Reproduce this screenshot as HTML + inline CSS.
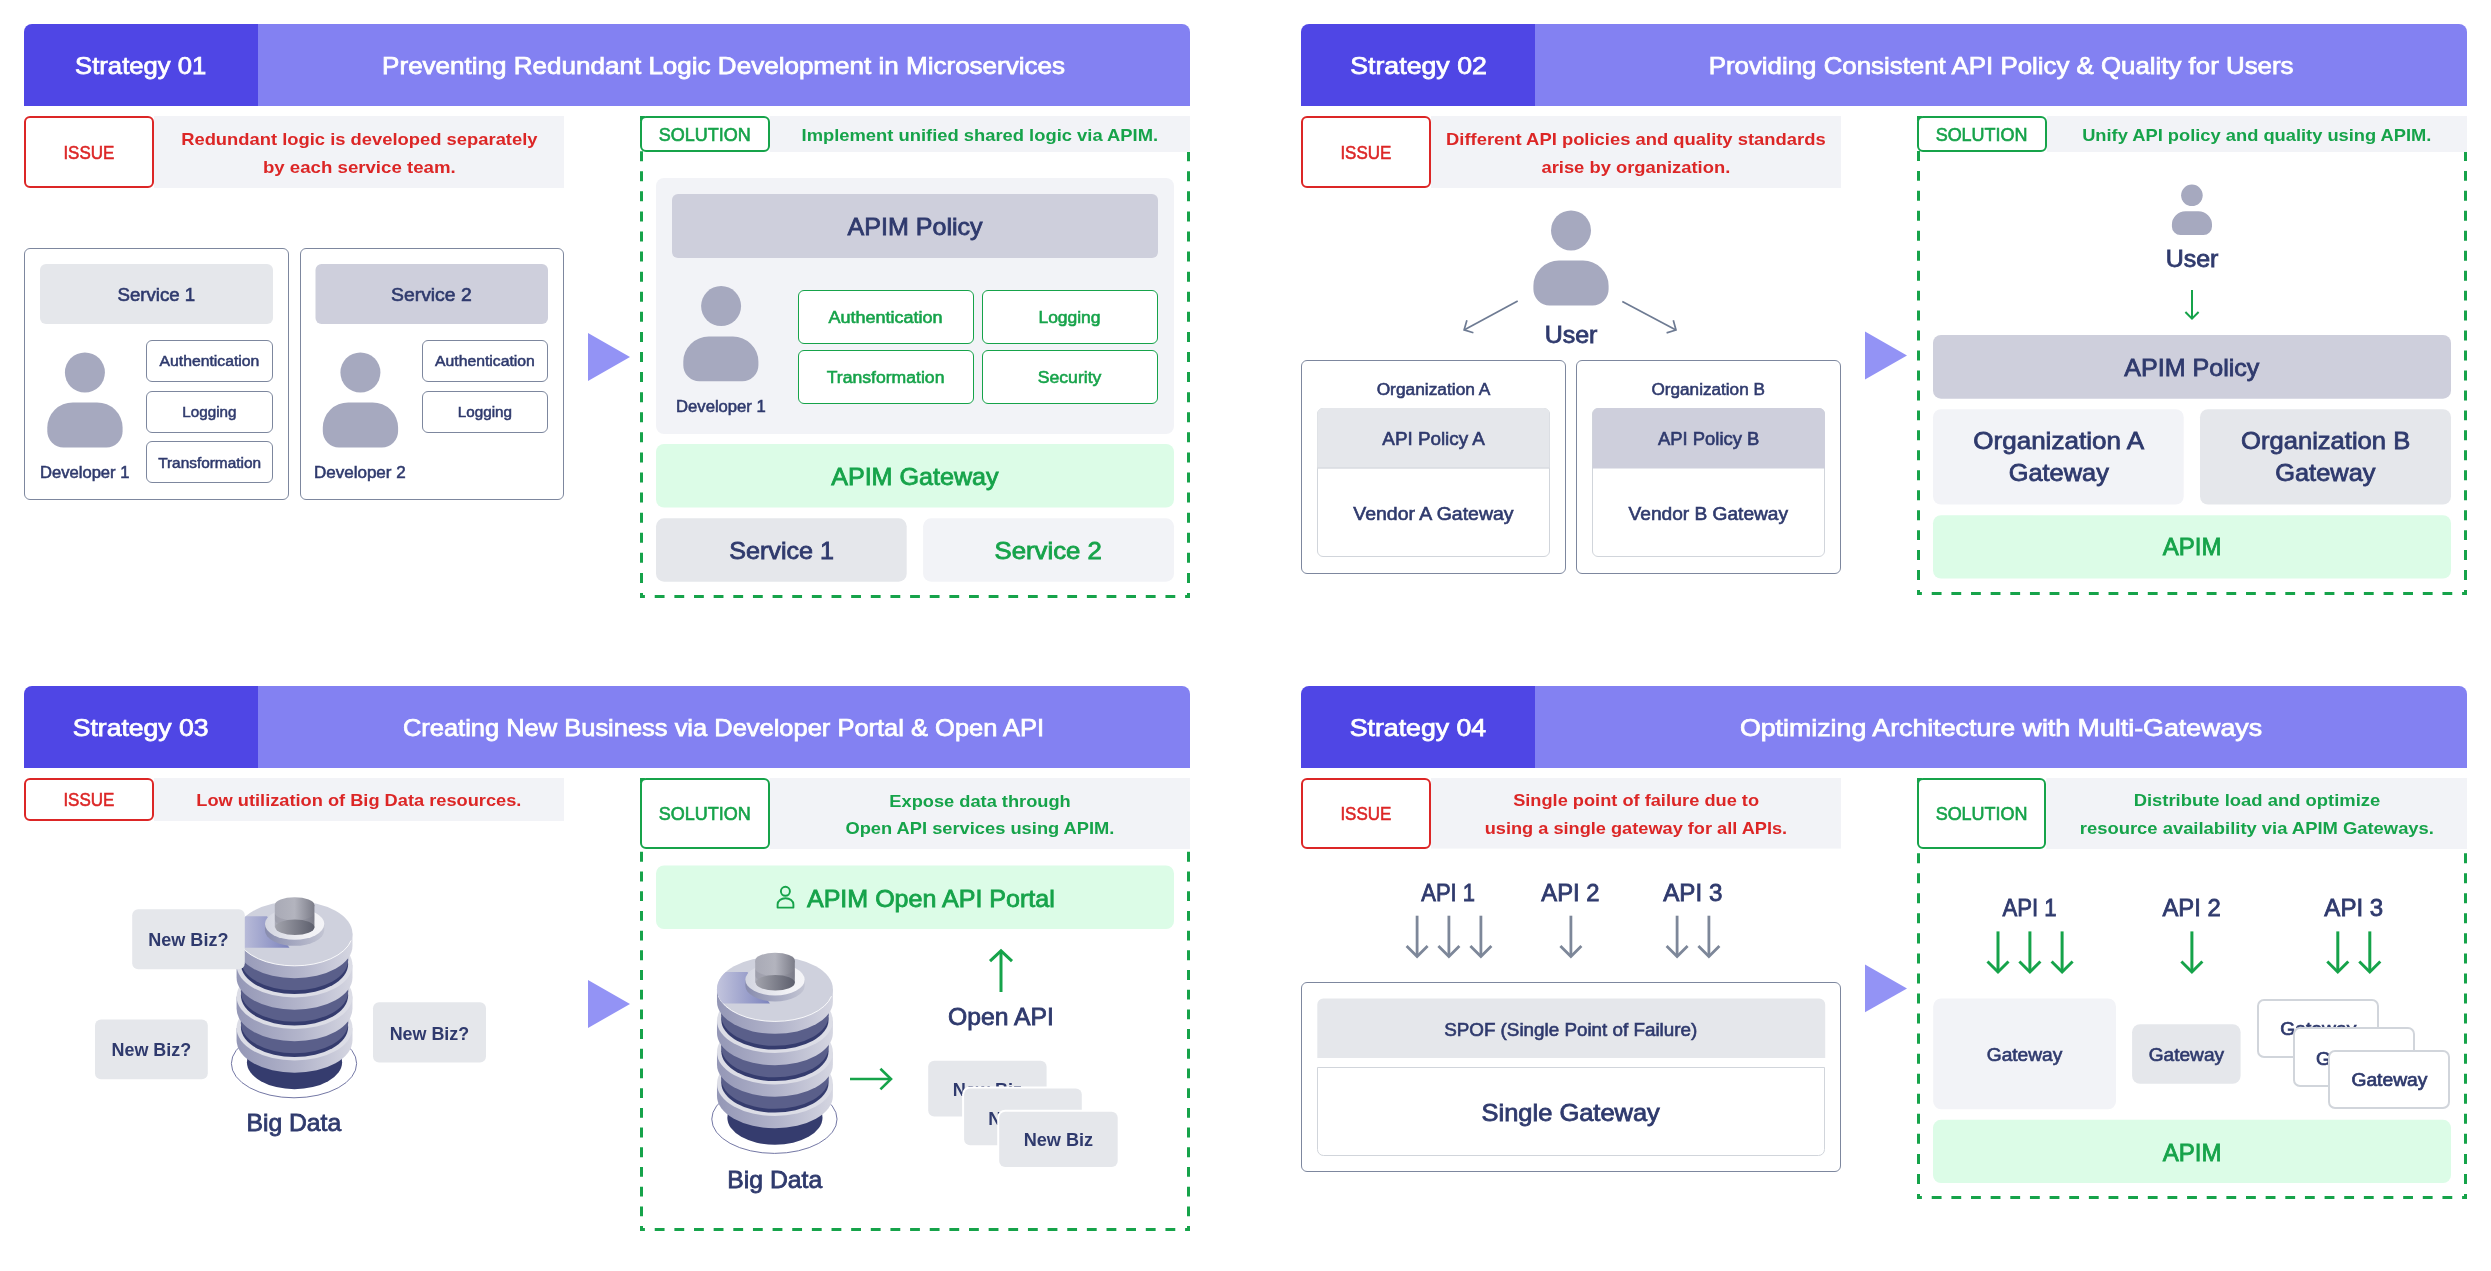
<!DOCTYPE html>
<html><head><meta charset="utf-8"><style>
html,body{margin:0;padding:0;background:#FFFFFF;width:2491px;height:1271px;overflow:hidden;position:relative}
text{font-family:"Liberation Sans",sans-serif}
</style></head><body>
<svg width="2491" height="1271" viewBox="0 0 2491 1271" style="position:absolute;left:0;top:0;will-change:transform" font-family="Liberation Sans, sans-serif">
<defs>
<linearGradient id="side" x1="0" x2="1" y1="0" y2="0"><stop offset="0" stop-color="#9497B6"/><stop offset="0.55" stop-color="#B3B5CB"/><stop offset="1" stop-color="#D5D6E1"/></linearGradient>
<linearGradient id="shade" x1="0" x2="1" y1="0" y2="0"><stop offset="0" stop-color="#C4C6DE"/><stop offset="1" stop-color="#7C83BD"/></linearGradient>
<linearGradient id="ring" x1="0" x2="1" y1="0" y2="0"><stop offset="0" stop-color="#D3D5E0"/><stop offset="0.7" stop-color="#F1F1F5"/><stop offset="1" stop-color="#F4F4F7"/></linearGradient>
<linearGradient id="ringside" x1="0" x2="1" y1="0" y2="0"><stop offset="0" stop-color="#888CAE"/><stop offset="1" stop-color="#C3C5D3"/></linearGradient>
<linearGradient id="col" x1="0" x2="1" y1="0" y2="0"><stop offset="0" stop-color="#A9AAB6"/><stop offset="0.5" stop-color="#B3B4BE"/><stop offset="1" stop-color="#7B7C88"/></linearGradient>
<linearGradient id="hole" x1="0" x2="1" y1="0" y2="0"><stop offset="0" stop-color="#A2A3AC"/><stop offset="1" stop-color="#5C5E6C"/></linearGradient>
<g id="db">
<ellipse cx="428" cy="1032" rx="362" ry="198" fill="none" stroke="#5D6196" stroke-width="5"/>
<ellipse cx="431" cy="1024" rx="275" ry="156" fill="#353C6E"/>
<path d="M96,827 L96,898 A335,187 0 0 0 766,898 L766,827 Z" fill="url(#side)"/>
<ellipse cx="431" cy="827" rx="335" ry="187" fill="#DCDDE6"/>
<ellipse cx="431" cy="821" rx="310" ry="173" fill="#353C6E"/>
<ellipse cx="431" cy="799" rx="310" ry="173" fill="#5A5F8A"/>
<rect x="121" y="716" width="620" height="83" fill="#5A5F8A"/>
<path d="M96,645 L96,716 A335,187 0 0 0 766,716 L766,645 Z" fill="url(#side)"/>
<ellipse cx="431" cy="645" rx="335" ry="187" fill="#DCDDE6"/>
<ellipse cx="431" cy="639" rx="310" ry="173" fill="#353C6E"/>
<ellipse cx="431" cy="617" rx="310" ry="173" fill="#5A5F8A"/>
<rect x="121" y="534" width="620" height="83" fill="#5A5F8A"/>
<path d="M96,463 L96,534 A335,187 0 0 0 766,534 L766,463 Z" fill="url(#side)"/>
<ellipse cx="431" cy="463" rx="335" ry="187" fill="#DCDDE6"/>
<ellipse cx="431" cy="457" rx="310" ry="173" fill="#353C6E"/>
<ellipse cx="431" cy="435" rx="310" ry="173" fill="#5A5F8A"/>
<rect x="121" y="352" width="620" height="83" fill="#5A5F8A"/>
<path d="M96,281 L96,352 A335,187 0 0 0 766,352 L766,281 Z" fill="url(#side)"/>
<ellipse cx="431" cy="281" rx="335" ry="187" fill="#CFD1DD"/>
<path d="M104,321 A335,187 0 0 0 758,321" fill="none" stroke="#FFFFFF" stroke-width="5"/>
<clipPath id="topclip"><ellipse cx="431" cy="281" rx="335" ry="187"/></clipPath>
<path d="M90,181 L272,181 L402,363 L90,363 Z" fill="url(#shade)" clip-path="url(#topclip)"/>
<path d="M260,226 L260,261 A171.5,90.7 0 0 0 603,261 L603,226 Z" fill="url(#ringside)"/>
<ellipse cx="431.5" cy="226" rx="171.5" ry="90.7" fill="url(#ring)"/>
<path d="M317,116 L317,244 L546,244 L546,116 Z" fill="url(#col)"/>
<ellipse cx="431.5" cy="116" rx="114.5" ry="45.4" fill="url(#col)"/>
<path d="M317,160 A114.5,45.4 0 0 0 546,160 L546,200 A114.5,45.4 0 0 1 317,200 Z" fill="#6F7080" opacity="0.18"/>
<ellipse cx="433" cy="244" rx="113" ry="45" fill="url(#hole)"/>
</g>
</defs>
<path d="M24,106 L24,32 A8,8 0 0 1 32,24 L258,24 L258,106 Z" fill="#4F46E5" />
<path d="M258,24 L1182,24 A8,8 0 0 1 1190,32 L1190,106 L258,106 Z" fill="#8381F2" />
<text x="140.70" y="74.30" font-size="24" font-weight="400" fill="#FFFFFF" text-anchor="middle" textLength="131.2" lengthAdjust="spacingAndGlyphs" stroke="#FFFFFF" stroke-width="0.75" >Strategy 01</text>
<text x="723.60" y="74.30" font-size="24" font-weight="400" fill="#FFFFFF" text-anchor="middle" textLength="683.0" lengthAdjust="spacingAndGlyphs" stroke="#FFFFFF" stroke-width="0.75" >Preventing Redundant Logic Development in Microservices</text>
<rect x="154.00" y="116.00" width="410.00" height="72.00" rx="0" fill="#F2F3F7" />
<rect x="25.00" y="117.00" width="128.00" height="70.00" rx="5.00" fill="#FFFFFF" stroke="#DC2626" stroke-width="2" />
<text x="88.85" y="158.80" font-size="18" font-weight="400" fill="#DC2626" text-anchor="middle" textLength="50.9" lengthAdjust="spacingAndGlyphs" stroke="#DC2626" stroke-width="0.55" >ISSUE</text>
<text x="359.35" y="144.90" font-size="17" font-weight="700" fill="#DC2626" text-anchor="middle" textLength="356.4" lengthAdjust="spacingAndGlyphs" >Redundant logic is developed separately</text>
<text x="359.30" y="173.00" font-size="17" font-weight="700" fill="#DC2626" text-anchor="middle" textLength="192.7" lengthAdjust="spacingAndGlyphs" >by each service team.</text>
<rect x="24.50" y="248.50" width="264.00" height="251.00" rx="5.50" fill="#FFFFFF" stroke="#7D879E" stroke-width="1" />
<rect x="40.00" y="264.00" width="233.00" height="60.00" rx="6" fill="#E5E7EB" />
<text x="156.35" y="301.20" font-size="18" font-weight="400" fill="#2F3A6D" text-anchor="middle" textLength="77.8" lengthAdjust="spacingAndGlyphs" stroke="#2F3A6D" stroke-width="0.6" >Service 1</text>
<circle cx="84.9" cy="372.5" r="20" fill="#A6A9BF"/>
<path d="M72.90,402.40 L97.00,402.40 A25.60,25.20 0 0 1 122.60,427.60 L122.60,431.20 A16.20,16.20 0 0 1 106.40,447.40 L63.50,447.40 A16.20,16.20 0 0 1 47.30,431.20 L47.30,427.60 A25.60,25.20 0 0 1 72.90,402.40 Z" fill="#A6A9BF" />
<text x="84.75" y="477.70" font-size="16" font-weight="400" fill="#2F3A6D" text-anchor="middle" textLength="89.4" lengthAdjust="spacingAndGlyphs" stroke="#2F3A6D" stroke-width="0.55" >Developer 1</text>
<rect x="146.50" y="340.50" width="126.00" height="41.00" rx="5.50" fill="#FFFFFF" stroke="#7D879E" stroke-width="1" />
<text x="209.45" y="366.40" font-size="14" font-weight="400" fill="#2F3A6D" text-anchor="middle" textLength="99.8" lengthAdjust="spacingAndGlyphs" stroke="#2F3A6D" stroke-width="0.5" >Authentication</text>
<rect x="146.50" y="391.50" width="126.00" height="41.00" rx="5.50" fill="#FFFFFF" stroke="#7D879E" stroke-width="1" />
<text x="209.40" y="417.10" font-size="14" font-weight="400" fill="#2F3A6D" text-anchor="middle" textLength="54.1" lengthAdjust="spacingAndGlyphs" stroke="#2F3A6D" stroke-width="0.5" >Logging</text>
<rect x="146.50" y="441.50" width="126.00" height="41.00" rx="5.50" fill="#FFFFFF" stroke="#7D879E" stroke-width="1" />
<text x="209.60" y="467.70" font-size="14" font-weight="400" fill="#2F3A6D" text-anchor="middle" textLength="102.9" lengthAdjust="spacingAndGlyphs" stroke="#2F3A6D" stroke-width="0.5" >Transformation</text>
<rect x="300.50" y="248.50" width="263.00" height="251.00" rx="5.50" fill="#FFFFFF" stroke="#7D879E" stroke-width="1" />
<rect x="315.50" y="264.00" width="232.50" height="60.00" rx="6" fill="#CECFDC" />
<text x="431.35" y="301.20" font-size="18" font-weight="400" fill="#2F3A6D" text-anchor="middle" textLength="80.6" lengthAdjust="spacingAndGlyphs" stroke="#2F3A6D" stroke-width="0.6" >Service 2</text>
<circle cx="360.4" cy="372.5" r="20" fill="#A6A9BF"/>
<path d="M348.40,402.40 L372.50,402.40 A25.60,25.20 0 0 1 398.10,427.60 L398.10,431.20 A16.20,16.20 0 0 1 381.90,447.40 L339.00,447.40 A16.20,16.20 0 0 1 322.80,431.20 L322.80,427.60 A25.60,25.20 0 0 1 348.40,402.40 Z" fill="#A6A9BF" />
<text x="359.85" y="477.70" font-size="16" font-weight="400" fill="#2F3A6D" text-anchor="middle" textLength="91.6" lengthAdjust="spacingAndGlyphs" stroke="#2F3A6D" stroke-width="0.55" >Developer 2</text>
<rect x="422.50" y="340.50" width="125.00" height="41.00" rx="5.50" fill="#FFFFFF" stroke="#7D879E" stroke-width="1" />
<text x="484.95" y="366.40" font-size="14" font-weight="400" fill="#2F3A6D" text-anchor="middle" textLength="99.8" lengthAdjust="spacingAndGlyphs" stroke="#2F3A6D" stroke-width="0.5" >Authentication</text>
<rect x="422.50" y="391.50" width="125.00" height="41.00" rx="5.50" fill="#FFFFFF" stroke="#7D879E" stroke-width="1" />
<text x="484.90" y="417.10" font-size="14" font-weight="400" fill="#2F3A6D" text-anchor="middle" textLength="54.1" lengthAdjust="spacingAndGlyphs" stroke="#2F3A6D" stroke-width="0.5" >Logging</text>
<path d="M588,333 L630,357.0 L588,381 Z" fill="#9393F5" />
<path d="M640.00,116h4.91v3h-4.91ZM654.73,116h9.82v3h-9.82ZM674.38,116h9.82v3h-9.82ZM694.02,116h9.82v3h-9.82ZM713.66,116h9.82v3h-9.82ZM733.30,116h9.82v3h-9.82ZM752.95,116h9.82v3h-9.82ZM772.59,116h9.82v3h-9.82ZM792.23,116h9.82v3h-9.82ZM811.87,116h9.82v3h-9.82ZM831.52,116h9.82v3h-9.82ZM851.16,116h9.82v3h-9.82ZM870.80,116h9.82v3h-9.82ZM890.45,116h9.82v3h-9.82ZM910.09,116h9.82v3h-9.82ZM929.73,116h9.82v3h-9.82ZM949.37,116h9.82v3h-9.82ZM969.02,116h9.82v3h-9.82ZM988.66,116h9.82v3h-9.82ZM1008.30,116h9.82v3h-9.82ZM1027.95,116h9.82v3h-9.82ZM1047.59,116h9.82v3h-9.82ZM1067.23,116h9.82v3h-9.82ZM1086.88,116h9.82v3h-9.82ZM1106.52,116h9.82v3h-9.82ZM1126.16,116h9.82v3h-9.82ZM1145.80,116h9.82v3h-9.82ZM1165.45,116h9.82v3h-9.82ZM1185.09,116h4.91v3h-4.91ZM640.00,595h4.91v3h-4.91ZM654.73,595h9.82v3h-9.82ZM674.38,595h9.82v3h-9.82ZM694.02,595h9.82v3h-9.82ZM713.66,595h9.82v3h-9.82ZM733.30,595h9.82v3h-9.82ZM752.95,595h9.82v3h-9.82ZM772.59,595h9.82v3h-9.82ZM792.23,595h9.82v3h-9.82ZM811.87,595h9.82v3h-9.82ZM831.52,595h9.82v3h-9.82ZM851.16,595h9.82v3h-9.82ZM870.80,595h9.82v3h-9.82ZM890.45,595h9.82v3h-9.82ZM910.09,595h9.82v3h-9.82ZM929.73,595h9.82v3h-9.82ZM949.37,595h9.82v3h-9.82ZM969.02,595h9.82v3h-9.82ZM988.66,595h9.82v3h-9.82ZM1008.30,595h9.82v3h-9.82ZM1027.95,595h9.82v3h-9.82ZM1047.59,595h9.82v3h-9.82ZM1067.23,595h9.82v3h-9.82ZM1086.88,595h9.82v3h-9.82ZM1106.52,595h9.82v3h-9.82ZM1126.16,595h9.82v3h-9.82ZM1145.80,595h9.82v3h-9.82ZM1165.45,595h9.82v3h-9.82ZM1185.09,595h4.91v3h-4.91ZM640,592.98h3v5.02h-3ZM640,572.90h3v10.04h-3ZM640,552.81h3v10.04h-3ZM640,532.73h3v10.04h-3ZM640,512.65h3v10.04h-3ZM640,492.56h3v10.04h-3ZM640,472.48h3v10.04h-3ZM640,452.40h3v10.04h-3ZM640,432.31h3v10.04h-3ZM640,412.23h3v10.04h-3ZM640,392.15h3v10.04h-3ZM640,372.06h3v10.04h-3ZM640,351.98h3v10.04h-3ZM640,331.90h3v10.04h-3ZM640,311.81h3v10.04h-3ZM640,291.73h3v10.04h-3ZM640,271.65h3v10.04h-3ZM640,251.56h3v10.04h-3ZM640,231.48h3v10.04h-3ZM640,211.40h3v10.04h-3ZM640,191.31h3v10.04h-3ZM640,171.23h3v10.04h-3ZM640,151.15h3v10.04h-3ZM640,131.06h3v10.04h-3ZM640,116.00h3v5.02h-3ZM1187,592.98h3v5.02h-3ZM1187,572.90h3v10.04h-3ZM1187,552.81h3v10.04h-3ZM1187,532.73h3v10.04h-3ZM1187,512.65h3v10.04h-3ZM1187,492.56h3v10.04h-3ZM1187,472.48h3v10.04h-3ZM1187,452.40h3v10.04h-3ZM1187,432.31h3v10.04h-3ZM1187,412.23h3v10.04h-3ZM1187,392.15h3v10.04h-3ZM1187,372.06h3v10.04h-3ZM1187,351.98h3v10.04h-3ZM1187,331.90h3v10.04h-3ZM1187,311.81h3v10.04h-3ZM1187,291.73h3v10.04h-3ZM1187,271.65h3v10.04h-3ZM1187,251.56h3v10.04h-3ZM1187,231.48h3v10.04h-3ZM1187,211.40h3v10.04h-3ZM1187,191.31h3v10.04h-3ZM1187,171.23h3v10.04h-3ZM1187,151.15h3v10.04h-3ZM1187,131.06h3v10.04h-3ZM1187,116.00h3v5.02h-3Z" fill="#16A34A" />
<rect x="769.60" y="116.00" width="420.40" height="36.00" rx="0" fill="#F2F3F7" />
<rect x="641.00" y="117.00" width="128.00" height="34.00" rx="5.00" fill="#FFFFFF" stroke="#16A34A" stroke-width="2" />
<text x="704.80" y="141.40" font-size="18" font-weight="400" fill="#16A34A" text-anchor="middle" textLength="91.9" lengthAdjust="spacingAndGlyphs" stroke="#16A34A" stroke-width="0.6" >SOLUTION</text>
<text x="979.80" y="141.40" font-size="17" font-weight="700" fill="#16A34A" text-anchor="middle" textLength="356.5" lengthAdjust="spacingAndGlyphs" >Implement unified shared logic via APIM.</text>
<rect x="656.00" y="178.00" width="518.00" height="256.00" rx="8" fill="#F2F3F7" />
<rect x="672.00" y="194.00" width="486.00" height="64.00" rx="6" fill="#CECFDC" />
<text x="915.10" y="235.20" font-size="24" font-weight="400" fill="#2F3A6D" text-anchor="middle" textLength="135.1" lengthAdjust="spacingAndGlyphs" stroke="#2F3A6D" stroke-width="0.8" >APIM Policy</text>
<circle cx="721.1" cy="306.1" r="20" fill="#A6A9BF"/>
<path d="M708.83,336.60 L732.87,336.60 A25.53,24.98 0 0 1 758.40,361.58 L758.40,365.14 A16.06,16.06 0 0 1 742.34,381.20 L699.36,381.20 A16.06,16.06 0 0 1 683.30,365.14 L683.30,361.58 A25.53,24.98 0 0 1 708.83,336.60 Z" fill="#A6A9BF" />
<text x="720.90" y="411.70" font-size="16" font-weight="400" fill="#2F3A6D" text-anchor="middle" textLength="89.7" lengthAdjust="spacingAndGlyphs" stroke="#2F3A6D" stroke-width="0.55" >Developer 1</text>
<rect x="798.50" y="290.50" width="175.00" height="53.00" rx="5.50" fill="#FFFFFF" stroke="#16A34A" stroke-width="1" />
<rect x="798.50" y="350.50" width="175.00" height="53.00" rx="5.50" fill="#FFFFFF" stroke="#16A34A" stroke-width="1" />
<rect x="982.50" y="290.50" width="175.00" height="53.00" rx="5.50" fill="#FFFFFF" stroke="#16A34A" stroke-width="1" />
<rect x="982.50" y="350.50" width="175.00" height="53.00" rx="5.50" fill="#FFFFFF" stroke="#16A34A" stroke-width="1" />
<text x="885.50" y="323.40" font-size="16" font-weight="400" fill="#16A34A" text-anchor="middle" textLength="114.1" lengthAdjust="spacingAndGlyphs" stroke="#16A34A" stroke-width="0.55" >Authentication</text>
<text x="885.60" y="383.20" font-size="16" font-weight="400" fill="#16A34A" text-anchor="middle" textLength="117.7" lengthAdjust="spacingAndGlyphs" stroke="#16A34A" stroke-width="0.55" >Transformation</text>
<text x="1069.50" y="323.40" font-size="16" font-weight="400" fill="#16A34A" text-anchor="middle" textLength="62.1" lengthAdjust="spacingAndGlyphs" stroke="#16A34A" stroke-width="0.55" >Logging</text>
<text x="1069.55" y="383.20" font-size="16" font-weight="400" fill="#16A34A" text-anchor="middle" textLength="63.6" lengthAdjust="spacingAndGlyphs" stroke="#16A34A" stroke-width="0.55" >Security</text>
<rect x="656.00" y="444.00" width="518.00" height="63.60" rx="8" fill="#DCFCE7" />
<text x="914.90" y="484.90" font-size="24" font-weight="400" fill="#16A34A" text-anchor="middle" textLength="167.5" lengthAdjust="spacingAndGlyphs" stroke="#16A34A" stroke-width="0.8" >APIM Gateway</text>
<rect x="656.00" y="518.30" width="250.70" height="63.40" rx="8" fill="#E5E7EB" />
<rect x="923.10" y="518.30" width="250.90" height="63.40" rx="8" fill="#F2F3F7" />
<text x="781.60" y="558.80" font-size="24" font-weight="400" fill="#2F3A6D" text-anchor="middle" textLength="104.7" lengthAdjust="spacingAndGlyphs" stroke="#2F3A6D" stroke-width="0.8" >Service 1</text>
<text x="1048.20" y="558.80" font-size="24" font-weight="400" fill="#16A34A" text-anchor="middle" textLength="107.3" lengthAdjust="spacingAndGlyphs" stroke="#16A34A" stroke-width="0.8" >Service 2</text>
<path d="M1301,106 L1301,32 A8,8 0 0 1 1309,24 L1535,24 L1535,106 Z" fill="#4F46E5" />
<path d="M1535,24 L2459,24 A8,8 0 0 1 2467,32 L2467,106 L1535,106 Z" fill="#8381F2" />
<text x="1418.55" y="74.30" font-size="24" font-weight="400" fill="#FFFFFF" text-anchor="middle" textLength="136.7" lengthAdjust="spacingAndGlyphs" stroke="#FFFFFF" stroke-width="0.75" >Strategy 02</text>
<text x="2001.10" y="74.30" font-size="24" font-weight="400" fill="#FFFFFF" text-anchor="middle" textLength="584.8" lengthAdjust="spacingAndGlyphs" stroke="#FFFFFF" stroke-width="0.75" >Providing Consistent API Policy &amp; Quality for Users</text>
<rect x="1431.00" y="116.00" width="410.00" height="72.00" rx="0" fill="#F2F3F7" />
<rect x="1302.00" y="117.00" width="128.00" height="70.00" rx="5.00" fill="#FFFFFF" stroke="#DC2626" stroke-width="2" />
<text x="1365.85" y="158.80" font-size="18" font-weight="400" fill="#DC2626" text-anchor="middle" textLength="50.9" lengthAdjust="spacingAndGlyphs" stroke="#DC2626" stroke-width="0.55" >ISSUE</text>
<text x="1635.85" y="144.70" font-size="17" font-weight="700" fill="#DC2626" text-anchor="middle" textLength="379.6" lengthAdjust="spacingAndGlyphs" >Different API policies and quality standards</text>
<text x="1635.85" y="173.00" font-size="17" font-weight="700" fill="#DC2626" text-anchor="middle" textLength="188.8" lengthAdjust="spacingAndGlyphs" >arise by organization.</text>
<circle cx="1571" cy="230.4" r="20" fill="#A6A9BF"/>
<path d="M1558.97,260.60 L1583.03,260.60 A25.57,25.09 0 0 1 1608.60,285.69 L1608.60,289.27 A16.13,16.13 0 0 1 1592.47,305.40 L1549.53,305.40 A16.13,16.13 0 0 1 1533.40,289.27 L1533.40,285.69 A25.57,25.09 0 0 1 1558.97,260.60 Z" fill="#A6A9BF" />
<text x="1571.00" y="342.70" font-size="24" font-weight="400" fill="#2F3A6D" text-anchor="middle" textLength="52.7" lengthAdjust="spacingAndGlyphs" stroke="#2F3A6D" stroke-width="0.8" >User</text>
<path d="M1517.7,300.9 L1464.5,329.8" fill="none" stroke="#6E7B93" stroke-width="1.7" />
<path d="M1466.9,320.3 L1464.1,329.9 L1473.4,332.7" fill="none" stroke="#6E7B93" stroke-width="1.7" stroke-linejoin="miter"/>
<path d="M1622.3,301.4 L1675.5,329.8" fill="none" stroke="#6E7B93" stroke-width="1.7" />
<path d="M1666.6,332.9 L1676,330 L1673.3,320.3" fill="none" stroke="#6E7B93" stroke-width="1.7" stroke-linejoin="miter"/>
<rect x="1301.50" y="360.50" width="264.00" height="213.00" rx="5.50" fill="#FFFFFF" stroke="#7D879E" stroke-width="1" />
<text x="1433.50" y="394.50" font-size="16" font-weight="400" fill="#2F3A6D" text-anchor="middle" textLength="113.7" lengthAdjust="spacingAndGlyphs" stroke="#2F3A6D" stroke-width="0.55" >Organization A</text>
<rect x="1317.50" y="408.50" width="232.00" height="148.00" rx="5.50" fill="#FFFFFF" stroke="#D1D5DB" stroke-width="1" />
<path d="M1317.3,468.5 L1317.3,414 A6,6 0 0 1 1323.3,408 L1543.5,408 A6,6 0 0 1 1549.5,414 L1549.5,468.5 Z" fill="#E5E7EB" />
<path d="M1317.3,468 L1549.5,468" fill="none" stroke="#D1D5DB" stroke-width="1" />
<text x="1433.60" y="444.90" font-size="18" font-weight="400" fill="#2F3A6D" text-anchor="middle" textLength="102.5" lengthAdjust="spacingAndGlyphs" stroke="#2F3A6D" stroke-width="0.6" >API Policy A</text>
<text x="1433.40" y="520.00" font-size="18" font-weight="400" fill="#2F3A6D" text-anchor="middle" textLength="160.3" lengthAdjust="spacingAndGlyphs" stroke="#2F3A6D" stroke-width="0.6" >Vendor A Gateway</text>
<rect x="1576.50" y="360.50" width="264.00" height="213.00" rx="5.50" fill="#FFFFFF" stroke="#7D879E" stroke-width="1" />
<text x="1708.20" y="394.50" font-size="16" font-weight="400" fill="#2F3A6D" text-anchor="middle" textLength="113.3" lengthAdjust="spacingAndGlyphs" stroke="#2F3A6D" stroke-width="0.55" >Organization B</text>
<rect x="1592.50" y="408.50" width="232.00" height="148.00" rx="5.50" fill="#FFFFFF" stroke="#D1D5DB" stroke-width="1" />
<path d="M1592.5,468.5 L1592.5,414 A6,6 0 0 1 1598.5,408 L1819,408 A6,6 0 0 1 1825,414 L1825,468.5 Z" fill="#CECFDC" />
<text x="1708.65" y="444.90" font-size="18" font-weight="400" fill="#2F3A6D" text-anchor="middle" textLength="101.4" lengthAdjust="spacingAndGlyphs" stroke="#2F3A6D" stroke-width="0.6" >API Policy B</text>
<text x="1708.30" y="520.00" font-size="18" font-weight="400" fill="#2F3A6D" text-anchor="middle" textLength="159.5" lengthAdjust="spacingAndGlyphs" stroke="#2F3A6D" stroke-width="0.6" >Vendor B Gateway</text>
<path d="M1865,331.5 L1907,355.5 L1865,379.5 Z" fill="#9393F5" />
<path d="M1917.00,116h4.91v3h-4.91ZM1931.73,116h9.82v3h-9.82ZM1951.38,116h9.82v3h-9.82ZM1971.02,116h9.82v3h-9.82ZM1990.66,116h9.82v3h-9.82ZM2010.30,116h9.82v3h-9.82ZM2029.95,116h9.82v3h-9.82ZM2049.59,116h9.82v3h-9.82ZM2069.23,116h9.82v3h-9.82ZM2088.88,116h9.82v3h-9.82ZM2108.52,116h9.82v3h-9.82ZM2128.16,116h9.82v3h-9.82ZM2147.80,116h9.82v3h-9.82ZM2167.45,116h9.82v3h-9.82ZM2187.09,116h9.82v3h-9.82ZM2206.73,116h9.82v3h-9.82ZM2226.38,116h9.82v3h-9.82ZM2246.02,116h9.82v3h-9.82ZM2265.66,116h9.82v3h-9.82ZM2285.30,116h9.82v3h-9.82ZM2304.95,116h9.82v3h-9.82ZM2324.59,116h9.82v3h-9.82ZM2344.23,116h9.82v3h-9.82ZM2363.88,116h9.82v3h-9.82ZM2383.52,116h9.82v3h-9.82ZM2403.16,116h9.82v3h-9.82ZM2422.80,116h9.82v3h-9.82ZM2442.45,116h9.82v3h-9.82ZM2462.09,116h4.91v3h-4.91ZM1917.00,592h4.91v3h-4.91ZM1931.73,592h9.82v3h-9.82ZM1951.38,592h9.82v3h-9.82ZM1971.02,592h9.82v3h-9.82ZM1990.66,592h9.82v3h-9.82ZM2010.30,592h9.82v3h-9.82ZM2029.95,592h9.82v3h-9.82ZM2049.59,592h9.82v3h-9.82ZM2069.23,592h9.82v3h-9.82ZM2088.88,592h9.82v3h-9.82ZM2108.52,592h9.82v3h-9.82ZM2128.16,592h9.82v3h-9.82ZM2147.80,592h9.82v3h-9.82ZM2167.45,592h9.82v3h-9.82ZM2187.09,592h9.82v3h-9.82ZM2206.73,592h9.82v3h-9.82ZM2226.38,592h9.82v3h-9.82ZM2246.02,592h9.82v3h-9.82ZM2265.66,592h9.82v3h-9.82ZM2285.30,592h9.82v3h-9.82ZM2304.95,592h9.82v3h-9.82ZM2324.59,592h9.82v3h-9.82ZM2344.23,592h9.82v3h-9.82ZM2363.88,592h9.82v3h-9.82ZM2383.52,592h9.82v3h-9.82ZM2403.16,592h9.82v3h-9.82ZM2422.80,592h9.82v3h-9.82ZM2442.45,592h9.82v3h-9.82ZM2462.09,592h4.91v3h-4.91ZM1917,590.01h3v4.99h-3ZM1917,570.05h3v9.98h-3ZM1917,550.09h3v9.98h-3ZM1917,530.14h3v9.98h-3ZM1917,510.18h3v9.98h-3ZM1917,490.22h3v9.98h-3ZM1917,470.26h3v9.98h-3ZM1917,450.30h3v9.98h-3ZM1917,430.34h3v9.98h-3ZM1917,410.39h3v9.98h-3ZM1917,390.43h3v9.98h-3ZM1917,370.47h3v9.98h-3ZM1917,350.51h3v9.98h-3ZM1917,330.55h3v9.98h-3ZM1917,310.59h3v9.98h-3ZM1917,290.64h3v9.98h-3ZM1917,270.68h3v9.98h-3ZM1917,250.72h3v9.98h-3ZM1917,230.76h3v9.98h-3ZM1917,210.80h3v9.98h-3ZM1917,190.84h3v9.98h-3ZM1917,170.89h3v9.98h-3ZM1917,150.93h3v9.98h-3ZM1917,130.97h3v9.98h-3ZM1917,116.00h3v4.99h-3ZM2464,590.01h3v4.99h-3ZM2464,570.05h3v9.98h-3ZM2464,550.09h3v9.98h-3ZM2464,530.14h3v9.98h-3ZM2464,510.18h3v9.98h-3ZM2464,490.22h3v9.98h-3ZM2464,470.26h3v9.98h-3ZM2464,450.30h3v9.98h-3ZM2464,430.34h3v9.98h-3ZM2464,410.39h3v9.98h-3ZM2464,390.43h3v9.98h-3ZM2464,370.47h3v9.98h-3ZM2464,350.51h3v9.98h-3ZM2464,330.55h3v9.98h-3ZM2464,310.59h3v9.98h-3ZM2464,290.64h3v9.98h-3ZM2464,270.68h3v9.98h-3ZM2464,250.72h3v9.98h-3ZM2464,230.76h3v9.98h-3ZM2464,210.80h3v9.98h-3ZM2464,190.84h3v9.98h-3ZM2464,170.89h3v9.98h-3ZM2464,150.93h3v9.98h-3ZM2464,130.97h3v9.98h-3ZM2464,116.00h3v4.99h-3Z" fill="#16A34A" />
<rect x="2046.80" y="116.00" width="420.20" height="36.00" rx="0" fill="#F2F3F7" />
<rect x="1918.00" y="117.00" width="128.00" height="34.00" rx="5.00" fill="#FFFFFF" stroke="#16A34A" stroke-width="2" />
<text x="1981.60" y="141.40" font-size="18" font-weight="400" fill="#16A34A" text-anchor="middle" textLength="91.9" lengthAdjust="spacingAndGlyphs" stroke="#16A34A" stroke-width="0.6" >SOLUTION</text>
<text x="2256.80" y="141.20" font-size="17" font-weight="700" fill="#16A34A" text-anchor="middle" textLength="349.3" lengthAdjust="spacingAndGlyphs" >Unify API policy and quality using APIM.</text>
<circle cx="2191.9" cy="195.3" r="10.8" fill="#A6A9BF"/>
<path d="M2185.53,211.30 L2198.37,211.30 A13.63,13.27 0 0 1 2212.00,224.57 L2212.00,226.47 A8.53,8.53 0 0 1 2203.47,235.00 L2180.43,235.00 A8.53,8.53 0 0 1 2171.90,226.47 L2171.90,224.57 A13.63,13.27 0 0 1 2185.53,211.30 Z" fill="#A6A9BF" />
<text x="2192.00" y="266.90" font-size="24" font-weight="400" fill="#2F3A6D" text-anchor="middle" textLength="52.7" lengthAdjust="spacingAndGlyphs" stroke="#2F3A6D" stroke-width="0.8" >User</text>
<path d="M2192,290 L2192,317.6" fill="none" stroke="#16A34A" stroke-width="2" stroke-linecap="butt"/>
<path d="M2185.4,312.0 L2192,318.6 L2198.6,312.0" fill="none" stroke="#16A34A" stroke-width="2" stroke-linejoin="miter" stroke-linecap="butt"/>
<rect x="1933.00" y="335.00" width="518.00" height="63.70" rx="8" fill="#CECFDC" />
<text x="2191.85" y="376.10" font-size="24" font-weight="400" fill="#2F3A6D" text-anchor="middle" textLength="135.0" lengthAdjust="spacingAndGlyphs" stroke="#2F3A6D" stroke-width="0.8" >APIM Policy</text>
<rect x="1933.00" y="409.20" width="250.70" height="95.40" rx="8" fill="#F2F3F7" />
<rect x="2200.00" y="409.20" width="251.00" height="95.40" rx="8" fill="#E5E7EB" />
<text x="2058.65" y="449.40" font-size="24" font-weight="400" fill="#2F3A6D" text-anchor="middle" textLength="170.8" lengthAdjust="spacingAndGlyphs" stroke="#2F3A6D" stroke-width="0.8" >Organization A</text>
<text x="2058.75" y="481.20" font-size="24" font-weight="400" fill="#2F3A6D" text-anchor="middle" textLength="100.2" lengthAdjust="spacingAndGlyphs" stroke="#2F3A6D" stroke-width="0.8" >Gateway</text>
<text x="2325.65" y="449.40" font-size="24" font-weight="400" fill="#2F3A6D" text-anchor="middle" textLength="169.2" lengthAdjust="spacingAndGlyphs" stroke="#2F3A6D" stroke-width="0.8" >Organization B</text>
<text x="2325.35" y="481.20" font-size="24" font-weight="400" fill="#2F3A6D" text-anchor="middle" textLength="100.2" lengthAdjust="spacingAndGlyphs" stroke="#2F3A6D" stroke-width="0.8" >Gateway</text>
<rect x="1933.00" y="515.20" width="518.00" height="63.30" rx="8" fill="#DCFCE7" />
<text x="2192.05" y="555.30" font-size="24" font-weight="400" fill="#16A34A" text-anchor="middle" textLength="58.8" lengthAdjust="spacingAndGlyphs" stroke="#16A34A" stroke-width="0.8" >APIM</text>
<path d="M24,768 L24,694 A8,8 0 0 1 32,686 L258,686 L258,768 Z" fill="#4F46E5" />
<path d="M258,686 L1182,686 A8,8 0 0 1 1190,694 L1190,768 L258,768 Z" fill="#8381F2" />
<text x="140.65" y="736.30" font-size="24" font-weight="400" fill="#FFFFFF" text-anchor="middle" textLength="135.9" lengthAdjust="spacingAndGlyphs" stroke="#FFFFFF" stroke-width="0.75" >Strategy 03</text>
<text x="723.50" y="736.30" font-size="24" font-weight="400" fill="#FFFFFF" text-anchor="middle" textLength="641.2" lengthAdjust="spacingAndGlyphs" stroke="#FFFFFF" stroke-width="0.75" >Creating New Business via Developer Portal &amp; Open API</text>
<rect x="154.00" y="778.00" width="410.00" height="43.00" rx="0" fill="#F2F3F7" />
<rect x="25.00" y="779.00" width="128.00" height="41.00" rx="5.00" fill="#FFFFFF" stroke="#DC2626" stroke-width="2" />
<text x="88.85" y="806.30" font-size="18" font-weight="400" fill="#DC2626" text-anchor="middle" textLength="50.9" lengthAdjust="spacingAndGlyphs" stroke="#DC2626" stroke-width="0.55" >ISSUE</text>
<text x="358.85" y="806.40" font-size="17" font-weight="700" fill="#DC2626" text-anchor="middle" textLength="325.0" lengthAdjust="spacingAndGlyphs" >Low utilization of Big Data resources.</text>
<use href="#db" transform="translate(219.96,884.99) scale(0.17301)"/>
<rect x="132.20" y="909.30" width="112.60" height="59.90" rx="6" fill="#E5E7EB" />
<text x="188.35" y="946.30" font-size="18" font-weight="700" fill="#2F3A6D" text-anchor="middle" textLength="80.2" lengthAdjust="spacingAndGlyphs" >New Biz?</text>
<rect x="95.00" y="1019.40" width="112.80" height="59.90" rx="6" fill="#E5E7EB" />
<text x="151.35" y="1056.40" font-size="18" font-weight="700" fill="#2F3A6D" text-anchor="middle" textLength="79.8" lengthAdjust="spacingAndGlyphs" >New Biz?</text>
<rect x="373.00" y="1002.20" width="113.00" height="60.20" rx="6" fill="#E5E7EB" />
<text x="429.45" y="1039.80" font-size="18" font-weight="700" fill="#2F3A6D" text-anchor="middle" textLength="79.6" lengthAdjust="spacingAndGlyphs" >New Biz?</text>
<text x="293.80" y="1131.40" font-size="24" font-weight="400" fill="#2F3A6D" text-anchor="middle" textLength="94.7" lengthAdjust="spacingAndGlyphs" stroke="#2F3A6D" stroke-width="0.8" >Big Data</text>
<path d="M588,980 L630,1004.0 L588,1028 Z" fill="#9393F5" />
<path d="M640.00,778h4.91v3h-4.91ZM654.73,778h9.82v3h-9.82ZM674.38,778h9.82v3h-9.82ZM694.02,778h9.82v3h-9.82ZM713.66,778h9.82v3h-9.82ZM733.30,778h9.82v3h-9.82ZM752.95,778h9.82v3h-9.82ZM772.59,778h9.82v3h-9.82ZM792.23,778h9.82v3h-9.82ZM811.87,778h9.82v3h-9.82ZM831.52,778h9.82v3h-9.82ZM851.16,778h9.82v3h-9.82ZM870.80,778h9.82v3h-9.82ZM890.45,778h9.82v3h-9.82ZM910.09,778h9.82v3h-9.82ZM929.73,778h9.82v3h-9.82ZM949.37,778h9.82v3h-9.82ZM969.02,778h9.82v3h-9.82ZM988.66,778h9.82v3h-9.82ZM1008.30,778h9.82v3h-9.82ZM1027.95,778h9.82v3h-9.82ZM1047.59,778h9.82v3h-9.82ZM1067.23,778h9.82v3h-9.82ZM1086.88,778h9.82v3h-9.82ZM1106.52,778h9.82v3h-9.82ZM1126.16,778h9.82v3h-9.82ZM1145.80,778h9.82v3h-9.82ZM1165.45,778h9.82v3h-9.82ZM1185.09,778h4.91v3h-4.91ZM640.00,1228h4.91v3h-4.91ZM654.73,1228h9.82v3h-9.82ZM674.38,1228h9.82v3h-9.82ZM694.02,1228h9.82v3h-9.82ZM713.66,1228h9.82v3h-9.82ZM733.30,1228h9.82v3h-9.82ZM752.95,1228h9.82v3h-9.82ZM772.59,1228h9.82v3h-9.82ZM792.23,1228h9.82v3h-9.82ZM811.87,1228h9.82v3h-9.82ZM831.52,1228h9.82v3h-9.82ZM851.16,1228h9.82v3h-9.82ZM870.80,1228h9.82v3h-9.82ZM890.45,1228h9.82v3h-9.82ZM910.09,1228h9.82v3h-9.82ZM929.73,1228h9.82v3h-9.82ZM949.37,1228h9.82v3h-9.82ZM969.02,1228h9.82v3h-9.82ZM988.66,1228h9.82v3h-9.82ZM1008.30,1228h9.82v3h-9.82ZM1027.95,1228h9.82v3h-9.82ZM1047.59,1228h9.82v3h-9.82ZM1067.23,1228h9.82v3h-9.82ZM1086.88,1228h9.82v3h-9.82ZM1106.52,1228h9.82v3h-9.82ZM1126.16,1228h9.82v3h-9.82ZM1145.80,1228h9.82v3h-9.82ZM1165.45,1228h9.82v3h-9.82ZM1185.09,1228h4.91v3h-4.91ZM640,1226.08h3v4.92h-3ZM640,1206.38h3v9.85h-3ZM640,1186.68h3v9.85h-3ZM640,1166.99h3v9.85h-3ZM640,1147.29h3v9.85h-3ZM640,1127.60h3v9.85h-3ZM640,1107.90h3v9.85h-3ZM640,1088.21h3v9.85h-3ZM640,1068.51h3v9.85h-3ZM640,1048.82h3v9.85h-3ZM640,1029.12h3v9.85h-3ZM640,1009.42h3v9.85h-3ZM640,989.73h3v9.85h-3ZM640,970.03h3v9.85h-3ZM640,950.34h3v9.85h-3ZM640,930.64h3v9.85h-3ZM640,910.95h3v9.85h-3ZM640,891.25h3v9.85h-3ZM640,871.55h3v9.85h-3ZM640,851.86h3v9.85h-3ZM640,832.16h3v9.85h-3ZM640,812.47h3v9.85h-3ZM640,792.77h3v9.85h-3ZM640,778.00h3v4.92h-3ZM1187,1226.08h3v4.92h-3ZM1187,1206.38h3v9.85h-3ZM1187,1186.68h3v9.85h-3ZM1187,1166.99h3v9.85h-3ZM1187,1147.29h3v9.85h-3ZM1187,1127.60h3v9.85h-3ZM1187,1107.90h3v9.85h-3ZM1187,1088.21h3v9.85h-3ZM1187,1068.51h3v9.85h-3ZM1187,1048.82h3v9.85h-3ZM1187,1029.12h3v9.85h-3ZM1187,1009.42h3v9.85h-3ZM1187,989.73h3v9.85h-3ZM1187,970.03h3v9.85h-3ZM1187,950.34h3v9.85h-3ZM1187,930.64h3v9.85h-3ZM1187,910.95h3v9.85h-3ZM1187,891.25h3v9.85h-3ZM1187,871.55h3v9.85h-3ZM1187,851.86h3v9.85h-3ZM1187,832.16h3v9.85h-3ZM1187,812.47h3v9.85h-3ZM1187,792.77h3v9.85h-3ZM1187,778.00h3v4.92h-3Z" fill="#16A34A" />
<rect x="769.50" y="778.00" width="420.50" height="71.00" rx="0" fill="#F2F3F7" />
<rect x="641.00" y="779.00" width="128.00" height="69.00" rx="5.00" fill="#FFFFFF" stroke="#16A34A" stroke-width="2" />
<text x="704.80" y="820.00" font-size="18" font-weight="400" fill="#16A34A" text-anchor="middle" textLength="91.9" lengthAdjust="spacingAndGlyphs" stroke="#16A34A" stroke-width="0.6" >SOLUTION</text>
<text x="980.05" y="806.70" font-size="17" font-weight="700" fill="#16A34A" text-anchor="middle" textLength="181.4" lengthAdjust="spacingAndGlyphs" >Expose data through</text>
<text x="979.95" y="834.40" font-size="17" font-weight="700" fill="#16A34A" text-anchor="middle" textLength="269.0" lengthAdjust="spacingAndGlyphs" >Open API services using APIM.</text>
<rect x="656.00" y="865.50" width="518.00" height="63.50" rx="8" fill="#DCFCE7" />
<text x="930.85" y="906.60" font-size="24" font-weight="400" fill="#16A34A" text-anchor="middle" textLength="247.8" lengthAdjust="spacingAndGlyphs" stroke="#16A34A" stroke-width="0.8" >APIM Open API Portal</text>
<circle cx="785.4" cy="891.3" r="4.5" fill="none" stroke="#16A34A" stroke-width="1.9"/>
<path d="M777.6,907.6 L777.6,904.5 A7.9,6.2 0 0 1 793.4,904.5 L793.4,907.6 Z" fill="none" stroke="#16A34A" stroke-width="1.9" stroke-linejoin="round"/>
<use href="#db" transform="translate(700.36,940.59) scale(0.17301)"/>
<text x="774.75" y="1187.80" font-size="24" font-weight="400" fill="#2F3A6D" text-anchor="middle" textLength="94.8" lengthAdjust="spacingAndGlyphs" stroke="#2F3A6D" stroke-width="0.8" >Big Data</text>
<path d="M1001,992 L1001,951" fill="none" stroke="#16A34A" stroke-width="3" />
<path d="M990,961.2 L1001,950.8 L1012,961.2" fill="none" stroke="#16A34A" stroke-width="3" />
<text x="1000.95" y="1024.70" font-size="24" font-weight="400" fill="#2F3A6D" text-anchor="middle" textLength="105.8" lengthAdjust="spacingAndGlyphs" stroke="#2F3A6D" stroke-width="0.8" >Open API</text>
<path d="M850,1079 L891,1079" fill="none" stroke="#16A34A" stroke-width="2.6" />
<path d="M880.4,1068.7 L891,1079 L880.4,1089.4" fill="none" stroke="#16A34A" stroke-width="2.6" />
<rect x="926.20" y="1058.80" width="122.40" height="59.70" rx="8" fill="#FFFFFF" />
<rect x="928.20" y="1060.80" width="118.40" height="55.70" rx="6" fill="#E5E7EB" />
<text x="987.40" y="1095.80" font-size="18" font-weight="700" fill="#2F3A6D" text-anchor="middle" textLength="69.5" lengthAdjust="spacingAndGlyphs" >New Biz</text>
<rect x="962.10" y="1086.40" width="121.70" height="60.90" rx="8" fill="#FFFFFF" />
<rect x="964.10" y="1088.40" width="117.70" height="56.90" rx="6" fill="#E5E7EB" />
<text x="1022.95" y="1124.60" font-size="18" font-weight="700" fill="#2F3A6D" text-anchor="middle" textLength="69.5" lengthAdjust="spacingAndGlyphs" >New Biz</text>
<rect x="997.20" y="1109.70" width="122.50" height="59.40" rx="8" fill="#FFFFFF" />
<rect x="999.20" y="1111.70" width="118.50" height="55.40" rx="6" fill="#E5E7EB" />
<text x="1058.45" y="1146.40" font-size="18" font-weight="700" fill="#2F3A6D" text-anchor="middle" textLength="69.5" lengthAdjust="spacingAndGlyphs" >New Biz</text>
<path d="M1301,768 L1301,694 A8,8 0 0 1 1309,686 L1535,686 L1535,768 Z" fill="#4F46E5" />
<path d="M1535,686 L2459,686 A8,8 0 0 1 2467,694 L2467,768 L1535,768 Z" fill="#8381F2" />
<text x="1417.95" y="736.30" font-size="24" font-weight="400" fill="#FFFFFF" text-anchor="middle" textLength="136.5" lengthAdjust="spacingAndGlyphs" stroke="#FFFFFF" stroke-width="0.75" >Strategy 04</text>
<text x="2001.00" y="736.30" font-size="24" font-weight="400" fill="#FFFFFF" text-anchor="middle" textLength="522.2" lengthAdjust="spacingAndGlyphs" stroke="#FFFFFF" stroke-width="0.75" >Optimizing Architecture with Multi-Gateways</text>
<rect x="1431.00" y="778.00" width="410.00" height="70.60" rx="0" fill="#F2F3F7" />
<rect x="1302.00" y="779.00" width="128.00" height="69.00" rx="5.00" fill="#FFFFFF" stroke="#DC2626" stroke-width="2" />
<text x="1365.85" y="820.10" font-size="18" font-weight="400" fill="#DC2626" text-anchor="middle" textLength="50.9" lengthAdjust="spacingAndGlyphs" stroke="#DC2626" stroke-width="0.55" >ISSUE</text>
<text x="1636.10" y="806.40" font-size="17" font-weight="700" fill="#DC2626" text-anchor="middle" textLength="245.9" lengthAdjust="spacingAndGlyphs" >Single point of failure due to</text>
<text x="1635.95" y="833.70" font-size="17" font-weight="700" fill="#DC2626" text-anchor="middle" textLength="302.4" lengthAdjust="spacingAndGlyphs" >using a single gateway for all APIs.</text>
<text x="1448.15" y="900.70" font-size="24" font-weight="400" fill="#2F3A6D" text-anchor="middle" textLength="53.8" lengthAdjust="spacingAndGlyphs" stroke="#2F3A6D" stroke-width="0.8" >API 1</text>
<text x="1570.45" y="900.70" font-size="24" font-weight="400" fill="#2F3A6D" text-anchor="middle" textLength="58.2" lengthAdjust="spacingAndGlyphs" stroke="#2F3A6D" stroke-width="0.8" >API 2</text>
<text x="1692.80" y="900.70" font-size="24" font-weight="400" fill="#2F3A6D" text-anchor="middle" textLength="59.1" lengthAdjust="spacingAndGlyphs" stroke="#2F3A6D" stroke-width="0.8" >API 3</text>
<path d="M1417.1,915.7 L1417.1,955.5" fill="none" stroke="#7D8799" stroke-width="2.8" stroke-linecap="butt"/>
<path d="M1406.6,946.0 L1417.1,956.5 L1427.6,946.0" fill="none" stroke="#7D8799" stroke-width="2.8" stroke-linejoin="miter" stroke-linecap="butt"/>
<path d="M1448.9,915.7 L1448.9,955.5" fill="none" stroke="#7D8799" stroke-width="2.8" stroke-linecap="butt"/>
<path d="M1438.4,946.0 L1448.9,956.5 L1459.4,946.0" fill="none" stroke="#7D8799" stroke-width="2.8" stroke-linejoin="miter" stroke-linecap="butt"/>
<path d="M1480.9,915.7 L1480.9,955.5" fill="none" stroke="#7D8799" stroke-width="2.8" stroke-linecap="butt"/>
<path d="M1470.4,946.0 L1480.9,956.5 L1491.4,946.0" fill="none" stroke="#7D8799" stroke-width="2.8" stroke-linejoin="miter" stroke-linecap="butt"/>
<path d="M1570.9,915.7 L1570.9,955.5" fill="none" stroke="#7D8799" stroke-width="2.8" stroke-linecap="butt"/>
<path d="M1560.4,946.0 L1570.9,956.5 L1581.4,946.0" fill="none" stroke="#7D8799" stroke-width="2.8" stroke-linejoin="miter" stroke-linecap="butt"/>
<path d="M1677.1,915.7 L1677.1,955.5" fill="none" stroke="#7D8799" stroke-width="2.8" stroke-linecap="butt"/>
<path d="M1666.6,946.0 L1677.1,956.5 L1687.6,946.0" fill="none" stroke="#7D8799" stroke-width="2.8" stroke-linejoin="miter" stroke-linecap="butt"/>
<path d="M1708.9,915.7 L1708.9,955.5" fill="none" stroke="#7D8799" stroke-width="2.8" stroke-linecap="butt"/>
<path d="M1698.4,946.0 L1708.9,956.5 L1719.4,946.0" fill="none" stroke="#7D8799" stroke-width="2.8" stroke-linejoin="miter" stroke-linecap="butt"/>
<rect x="1301.50" y="982.50" width="539.00" height="189.00" rx="5.50" fill="#FFFFFF" stroke="#7D879E" stroke-width="1" />
<path d="M1317.3,1058 L1317.3,1004.6 A6,6 0 0 1 1323.3,998.6 L1819.2,998.6 A6,6 0 0 1 1825.2,1004.6 L1825.2,1058 Z" fill="#E5E7EB" />
<text x="1570.70" y="1035.60" font-size="18" font-weight="400" fill="#2F3A6D" text-anchor="middle" textLength="253.1" lengthAdjust="spacingAndGlyphs" stroke="#2F3A6D" stroke-width="0.6" >SPOF (Single Point of Failure)</text>
<path d="M1317.5,1067.5 L1824.5,1067.5 L1824.5,1149.5 A6,6 0 0 1 1818.5,1155.5 L1323.5,1155.5 A6,6 0 0 1 1317.5,1149.5 Z" fill="#FFFFFF" stroke="#D1D5DB" stroke-width="1" />
<text x="1570.70" y="1120.70" font-size="24" font-weight="400" fill="#2F3A6D" text-anchor="middle" textLength="178.3" lengthAdjust="spacingAndGlyphs" stroke="#2F3A6D" stroke-width="0.8" >Single Gateway</text>
<path d="M1865,964.5 L1907,988.4 L1865,1012.3 Z" fill="#9393F5" />
<path d="M1917.00,778h4.91v3h-4.91ZM1931.73,778h9.82v3h-9.82ZM1951.38,778h9.82v3h-9.82ZM1971.02,778h9.82v3h-9.82ZM1990.66,778h9.82v3h-9.82ZM2010.30,778h9.82v3h-9.82ZM2029.95,778h9.82v3h-9.82ZM2049.59,778h9.82v3h-9.82ZM2069.23,778h9.82v3h-9.82ZM2088.88,778h9.82v3h-9.82ZM2108.52,778h9.82v3h-9.82ZM2128.16,778h9.82v3h-9.82ZM2147.80,778h9.82v3h-9.82ZM2167.45,778h9.82v3h-9.82ZM2187.09,778h9.82v3h-9.82ZM2206.73,778h9.82v3h-9.82ZM2226.38,778h9.82v3h-9.82ZM2246.02,778h9.82v3h-9.82ZM2265.66,778h9.82v3h-9.82ZM2285.30,778h9.82v3h-9.82ZM2304.95,778h9.82v3h-9.82ZM2324.59,778h9.82v3h-9.82ZM2344.23,778h9.82v3h-9.82ZM2363.88,778h9.82v3h-9.82ZM2383.52,778h9.82v3h-9.82ZM2403.16,778h9.82v3h-9.82ZM2422.80,778h9.82v3h-9.82ZM2442.45,778h9.82v3h-9.82ZM2462.09,778h4.91v3h-4.91ZM1917.00,1196h4.91v3h-4.91ZM1931.73,1196h9.82v3h-9.82ZM1951.38,1196h9.82v3h-9.82ZM1971.02,1196h9.82v3h-9.82ZM1990.66,1196h9.82v3h-9.82ZM2010.30,1196h9.82v3h-9.82ZM2029.95,1196h9.82v3h-9.82ZM2049.59,1196h9.82v3h-9.82ZM2069.23,1196h9.82v3h-9.82ZM2088.88,1196h9.82v3h-9.82ZM2108.52,1196h9.82v3h-9.82ZM2128.16,1196h9.82v3h-9.82ZM2147.80,1196h9.82v3h-9.82ZM2167.45,1196h9.82v3h-9.82ZM2187.09,1196h9.82v3h-9.82ZM2206.73,1196h9.82v3h-9.82ZM2226.38,1196h9.82v3h-9.82ZM2246.02,1196h9.82v3h-9.82ZM2265.66,1196h9.82v3h-9.82ZM2285.30,1196h9.82v3h-9.82ZM2304.95,1196h9.82v3h-9.82ZM2324.59,1196h9.82v3h-9.82ZM2344.23,1196h9.82v3h-9.82ZM2363.88,1196h9.82v3h-9.82ZM2383.52,1196h9.82v3h-9.82ZM2403.16,1196h9.82v3h-9.82ZM2422.80,1196h9.82v3h-9.82ZM2442.45,1196h9.82v3h-9.82ZM2462.09,1196h4.91v3h-4.91ZM1917,1193.99h3v5.01h-3ZM1917,1173.94h3v10.02h-3ZM1917,1153.89h3v10.02h-3ZM1917,1133.85h3v10.02h-3ZM1917,1113.80h3v10.02h-3ZM1917,1093.75h3v10.02h-3ZM1917,1073.70h3v10.02h-3ZM1917,1053.65h3v10.02h-3ZM1917,1033.61h3v10.02h-3ZM1917,1013.56h3v10.02h-3ZM1917,993.51h3v10.02h-3ZM1917,973.46h3v10.02h-3ZM1917,953.42h3v10.02h-3ZM1917,933.37h3v10.02h-3ZM1917,913.32h3v10.02h-3ZM1917,893.27h3v10.02h-3ZM1917,873.23h3v10.02h-3ZM1917,853.18h3v10.02h-3ZM1917,833.13h3v10.02h-3ZM1917,813.08h3v10.02h-3ZM1917,793.04h3v10.02h-3ZM1917,778.00h3v5.01h-3ZM2464,1193.99h3v5.01h-3ZM2464,1173.94h3v10.02h-3ZM2464,1153.89h3v10.02h-3ZM2464,1133.85h3v10.02h-3ZM2464,1113.80h3v10.02h-3ZM2464,1093.75h3v10.02h-3ZM2464,1073.70h3v10.02h-3ZM2464,1053.65h3v10.02h-3ZM2464,1033.61h3v10.02h-3ZM2464,1013.56h3v10.02h-3ZM2464,993.51h3v10.02h-3ZM2464,973.46h3v10.02h-3ZM2464,953.42h3v10.02h-3ZM2464,933.37h3v10.02h-3ZM2464,913.32h3v10.02h-3ZM2464,893.27h3v10.02h-3ZM2464,873.23h3v10.02h-3ZM2464,853.18h3v10.02h-3ZM2464,833.13h3v10.02h-3ZM2464,813.08h3v10.02h-3ZM2464,793.04h3v10.02h-3ZM2464,778.00h3v5.01h-3Z" fill="#16A34A" />
<rect x="2046.30" y="778.00" width="420.70" height="71.00" rx="0" fill="#F2F3F7" />
<rect x="1918.00" y="779.00" width="127.00" height="69.00" rx="5.00" fill="#FFFFFF" stroke="#16A34A" stroke-width="2" />
<text x="1981.60" y="820.00" font-size="18" font-weight="400" fill="#16A34A" text-anchor="middle" textLength="91.9" lengthAdjust="spacingAndGlyphs" stroke="#16A34A" stroke-width="0.6" >SOLUTION</text>
<text x="2256.95" y="806.40" font-size="17" font-weight="700" fill="#16A34A" text-anchor="middle" textLength="246.6" lengthAdjust="spacingAndGlyphs" >Distribute load and optimize</text>
<text x="2256.90" y="833.70" font-size="17" font-weight="700" fill="#16A34A" text-anchor="middle" textLength="354.1" lengthAdjust="spacingAndGlyphs" >resource availability via APIM Gateways.</text>
<text x="2029.55" y="916.20" font-size="24" font-weight="400" fill="#2F3A6D" text-anchor="middle" textLength="54.2" lengthAdjust="spacingAndGlyphs" stroke="#2F3A6D" stroke-width="0.8" >API 1</text>
<text x="2191.60" y="916.20" font-size="24" font-weight="400" fill="#2F3A6D" text-anchor="middle" textLength="58.3" lengthAdjust="spacingAndGlyphs" stroke="#2F3A6D" stroke-width="0.8" >API 2</text>
<text x="2353.80" y="916.20" font-size="24" font-weight="400" fill="#2F3A6D" text-anchor="middle" textLength="58.9" lengthAdjust="spacingAndGlyphs" stroke="#2F3A6D" stroke-width="0.8" >API 3</text>
<path d="M1998,931.4 L1998,971" fill="none" stroke="#16A34A" stroke-width="3" stroke-linecap="butt"/>
<path d="M1987.5,961.5 L1998,972 L2008.5,961.5" fill="none" stroke="#16A34A" stroke-width="3" stroke-linejoin="miter" stroke-linecap="butt"/>
<path d="M2029.9,931.4 L2029.9,971" fill="none" stroke="#16A34A" stroke-width="3" stroke-linecap="butt"/>
<path d="M2019.4,961.5 L2029.9,972 L2040.4,961.5" fill="none" stroke="#16A34A" stroke-width="3" stroke-linejoin="miter" stroke-linecap="butt"/>
<path d="M2062.1,931.4 L2062.1,971" fill="none" stroke="#16A34A" stroke-width="3" stroke-linecap="butt"/>
<path d="M2051.6,961.5 L2062.1,972 L2072.6,961.5" fill="none" stroke="#16A34A" stroke-width="3" stroke-linejoin="miter" stroke-linecap="butt"/>
<path d="M2191.9,931.4 L2191.9,971" fill="none" stroke="#16A34A" stroke-width="3" stroke-linecap="butt"/>
<path d="M2181.4,961.5 L2191.9,972 L2202.4,961.5" fill="none" stroke="#16A34A" stroke-width="3" stroke-linejoin="miter" stroke-linecap="butt"/>
<path d="M2337.8,931.4 L2337.8,971" fill="none" stroke="#16A34A" stroke-width="3" stroke-linecap="butt"/>
<path d="M2327.3,961.5 L2337.8,972 L2348.3,961.5" fill="none" stroke="#16A34A" stroke-width="3" stroke-linejoin="miter" stroke-linecap="butt"/>
<path d="M2369.8,931.4 L2369.8,971" fill="none" stroke="#16A34A" stroke-width="3" stroke-linecap="butt"/>
<path d="M2359.3,961.5 L2369.8,972 L2380.3,961.5" fill="none" stroke="#16A34A" stroke-width="3" stroke-linejoin="miter" stroke-linecap="butt"/>
<rect x="1933.20" y="998.40" width="182.80" height="110.90" rx="8" fill="#F2F3F7" />
<text x="2024.55" y="1061.10" font-size="18" font-weight="400" fill="#2F3A6D" text-anchor="middle" textLength="75.6" lengthAdjust="spacingAndGlyphs" stroke="#2F3A6D" stroke-width="0.6" >Gateway</text>
<rect x="2132.10" y="1024.20" width="108.50" height="59.60" rx="8" fill="#E5E7EB" />
<text x="2186.40" y="1061.10" font-size="18" font-weight="400" fill="#2F3A6D" text-anchor="middle" textLength="75.3" lengthAdjust="spacingAndGlyphs" stroke="#2F3A6D" stroke-width="0.6" >Gateway</text>
<rect x="2258.00" y="1000.00" width="120.00" height="57.00" rx="6.00" fill="#FFFFFF" stroke="#D1D5DB" stroke-width="2" />
<text x="2318.30" y="1035.40" font-size="18" font-weight="400" fill="#2F3A6D" text-anchor="middle" textLength="76.0" lengthAdjust="spacingAndGlyphs" stroke="#2F3A6D" stroke-width="0.7" >Gateway</text>
<rect x="2294.00" y="1028.00" width="120.00" height="58.00" rx="6.00" fill="#FFFFFF" stroke="#D1D5DB" stroke-width="2" />
<text x="2354.00" y="1064.60" font-size="18" font-weight="400" fill="#2F3A6D" text-anchor="middle" textLength="76.0" lengthAdjust="spacingAndGlyphs" stroke="#2F3A6D" stroke-width="0.7" >Gateway</text>
<rect x="2329.00" y="1051.00" width="120.00" height="57.00" rx="6.00" fill="#FFFFFF" stroke="#D1D5DB" stroke-width="2" />
<text x="2389.45" y="1086.20" font-size="18" font-weight="400" fill="#2F3A6D" text-anchor="middle" textLength="76.0" lengthAdjust="spacingAndGlyphs" stroke="#2F3A6D" stroke-width="0.7" >Gateway</text>
<rect x="1933.00" y="1119.80" width="518.00" height="63.30" rx="8" fill="#DCFCE7" />
<text x="2192.05" y="1161.30" font-size="24" font-weight="400" fill="#16A34A" text-anchor="middle" textLength="58.8" lengthAdjust="spacingAndGlyphs" stroke="#16A34A" stroke-width="0.8" >APIM</text>
</svg>
</body></html>
